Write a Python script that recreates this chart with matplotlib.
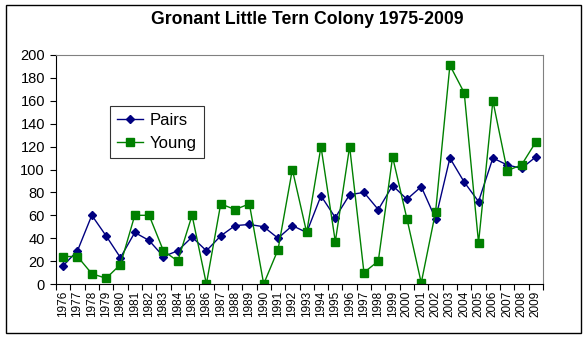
import numpy as np
import matplotlib.pyplot as plt
from matplotlib.patches import Rectangle

plt.rcParams['font.family'] = ['Liberation Sans', 'DejaVu Sans']

years = list(range(1976, 2010))
pairs = [16, 29, 60, 42, 23, 45, 38, 24, 29, 41, 29, 42, 51, 52, 50, 40, 51,
         45, 77, 58, 78, 80, 65, 86, 74, 85, 57, 110, 89, 72, 110, 104, 101, 111]
young = [24, 24, 9, 5, 17, 60, 60, 29, 20, 60, 0, 70, 65, 70, 0, 30, 100,
         45, 120, 37, 120, 10, 20, 111, 57, 1, 63, 191, 167, 36, 160, 99, 104, 124]

W, H = 587, 338
fig = plt.figure(figsize=(W / 100, H / 100), dpi=100)
ax = fig.add_axes([56 / W, 1 - 284 / H, (543 - 56) / W, (284 - 55) / H])

x = np.arange(len(years))
ax.plot(x, pairs, color='#000080', marker='D', markersize=4.5, linewidth=1,
        label='Pairs')
ax.plot(x, young, color='#008000', marker='s', markersize=5.5, linewidth=1,
        label='Young')

ax.set_xlim(-0.5, len(years) - 0.5)
ax.set_ylim(0, 200)
ax.set_yticks(range(0, 201, 20))
ax.set_xticks(x)
ax.set_xticklabels([str(y) for y in years], rotation=90, fontsize=8.5)
ax.set_xticks(np.arange(-0.5, len(years)), minor=True)
ax.tick_params(axis='x', which='major', length=0, pad=5)
ax.tick_params(axis='x', which='minor', length=4, direction='out', width=0.8)
ax.tick_params(axis='y', length=4, direction='out', width=0.8, labelsize=10.5,
               pad=4)

for side in ('top', 'right'):
    ax.spines[side].set_color('#808080')
for side in ('left', 'bottom'):
    ax.spines[side].set_color('black')

fig.text(307 / W, 1 - 20 / H, 'Gronant Little Tern Colony 1975-2009',
         fontsize=12.7, fontweight='bold', ha='center', va='center')

leg = ax.legend(loc='upper left', bbox_to_anchor=((110 - 56) / 487, (284 - 106) / 229),
                fontsize=12, frameon=True, fancybox=False, edgecolor='black',
                borderpad=0.4, handlelength=1.6, handletextpad=0.4,
                labelspacing=0.5, borderaxespad=0)
leg.get_frame().set_linewidth(0.8)

# outer chart-area border
fig.patches.append(Rectangle((6 / W, 5 / H), 575 / W, 328 / H,
                             transform=fig.transFigure, fill=False,
                             edgecolor='black', linewidth=1))

fig.savefig('out.png', dpi=100)
